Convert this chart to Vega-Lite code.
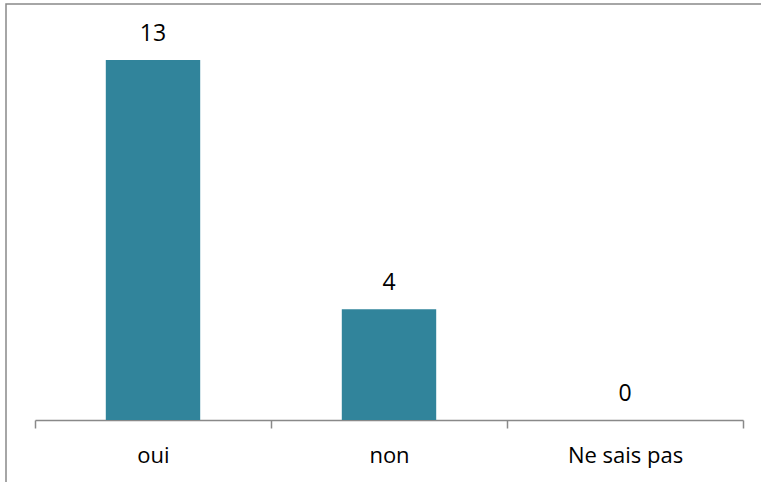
{
  "$schema": "https://vega.github.io/schema/vega-lite/v6.json",
  "autosize": {"type": "none"},
  "padding": {"left": 6, "top": 4, "right": 0, "bottom": 0},
  "width": 780,
  "height": 500,
  "background": "white",
  "data": {
    "values": [
      {"reponse": "oui", "nombre": 13},
      {"reponse": "non", "nombre": 4},
      {"reponse": "Ne sais pas", "nombre": 0}
    ]
  },
  "encoding": {
    "x": {
      "field": "reponse",
      "type": "nominal",
      "sort": null,
      "scale": {"range": [29, 737], "paddingInner": 0, "paddingOuter": 0},
      "axis": {
        "title": null,
        "orient": "bottom",
        "offset": -84,
        "tickBand": "extent",
        "tickSize": 8,
        "tickWidth": 1.5,
        "tickColor": "#898989",
        "domainColor": "#898989",
        "domainWidth": 1.5,
        "labelAngle": 0,
        "labelFont": "Open Sans",
        "labelFontSize": 22,
        "labelColor": "#000000",
        "labelBaseline": "alphabetic",
        "labelPadding": 34
      }
    },
    "y": {
      "field": "nombre",
      "type": "quantitative",
      "scale": {"domain": [0, 13], "range": [416, 56], "nice": false, "zero": true},
      "axis": null
    }
  },
  "layer": [
    {
      "mark": {"type": "bar", "color": "#31849B", "width": {"band": 0.4}}
    },
    {
      "mark": {
        "type": "text",
        "font": "Open Sans",
        "fontSize": 23,
        "color": "#000000",
        "baseline": "alphabetic",
        "align": "center",
        "dy": -19
      },
      "encoding": {"text": {"field": "nombre", "type": "quantitative"}}
    }
  ],
  "config": {
    "view": {"stroke": "#898989", "strokeWidth": 1.5, "fill": "white"}
  }
}
